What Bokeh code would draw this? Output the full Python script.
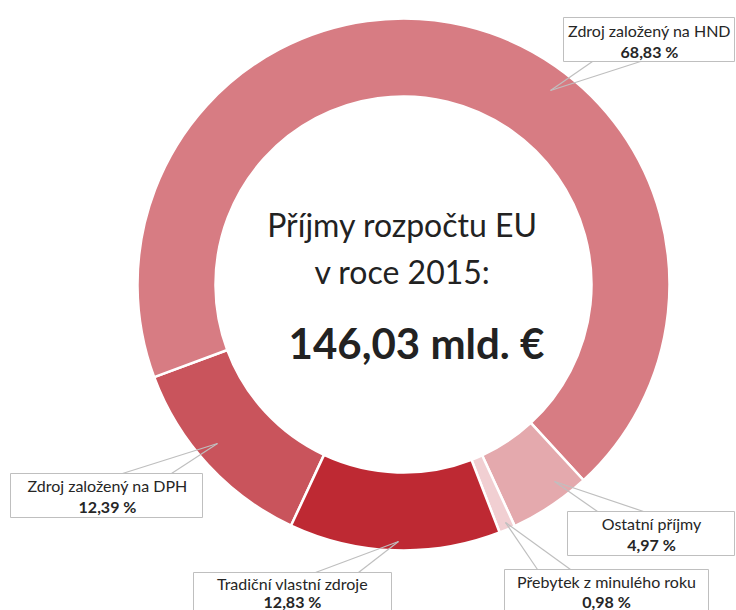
import numpy as np
from bokeh.plotting import figure
from bokeh.models import Range1d, ColumnDataSource
from bokeh.embed import file_html
from bokeh.resources import INLINE
from bokeh.core.properties import value

# ---- data ----
categories = ["Zdroj založený na DPH", "Zdroj založený na HND", "Ostatní příjmy",
              "Přebytek z minulého roku", "Tradiční vlastní zdroje"]
shares = [12.39, 68.83, 4.97, 0.98, 12.83]
share_labels = ["12,39 %", "68,83 %", "4,97 %", "0,98 %", "12,83 %"]
colors = ["#C9545C", "#D77C83", "#E4A9AD", "#F1CFD2", "#BE2933"]
title_lines = ["Příjmy rozpočtu EU", "v roce 2015:"]
total_label = "146,03 mld. €"

# ---- layout (page pixels; figure starts at page origin) ----
W, H = 736, 610
CX, CY = 403, 284
R_OUT, R_IN = 266, 188
START_DEG = 245.0  # start of first slice (DPH), going clockwise

def Y(y):
    return -y

p = figure(width=W, height=H, output_backend="svg", toolbar_location=None,
           x_range=Range1d(0, W), y_range=Range1d(-H, 0),
           x_axis_type=None, y_axis_type=None, title=None,
           min_border=0, min_border_left=0, min_border_right=0,
           min_border_top=0, min_border_bottom=0)
p.grid.visible = False
p.outline_line_color = None
p.background_fill_color = "white"
p.border_fill_color = "white"

vals = np.array(shares, dtype=float)
frac = vals / vals.sum()
cum = np.concatenate([[0], np.cumsum(frac)])
start0 = np.deg2rad(START_DEG)
starts = start0 - cum[:-1] * 2 * np.pi
ends = start0 - cum[1:] * 2 * np.pi

src = ColumnDataSource(dict(x=[CX] * len(vals), y=[Y(CY)] * len(vals),
                            start=starts, end=ends, color=colors, cat=categories))
p.annular_wedge(x="x", y="y", inner_radius=R_IN, outer_radius=R_OUT,
                start_angle="start", end_angle="end", direction="clock",
                fill_color="color", line_color="white", line_width=2.5, source=src)

# ---- callout boxes ----
callouts = {
    "Zdroj založený na DPH": dict(box=(10, 202, 473, 517), tx=107, ty=(485, 506),
                                   tip=(217, 443), base=((122, 473), (171, 473))),
    "Zdroj založený na HND": dict(box=(563, 734, 17, 61), tx=649, ty=(30, 51),
                                   tip=(550, 90), base=((592, 61), (640, 61))),
    "Ostatní příjmy": dict(box=(567, 734, 511, 555), tx=651, ty=(523, 544),
                           tip=(554, 481), base=((597, 511), (643, 511))),
    "Přebytek z minulého roku": dict(box=(504, 708, 569, 630), tx=606, ty=(581, 601),
                                     tip=(505, 522), base=((537, 569), (570, 569))),
    "Tradiční vlastní zdroje": dict(box=(193, 391, 572, 630), tx=292, ty=(583, 601),
                                    tip=(398, 541), base=((315, 572), (358, 572))),
}

GRAY = "#BFBFBF"
FONT = value("Lato")
for cat, lab in zip(categories, share_labels):
    c = callouts[cat]
    l, r, t, b = c["box"]
    p.quad(left=l, right=r, top=Y(t), bottom=Y(b), fill_color="white",
           line_color=GRAY, line_width=1)
    (bx0, by0), (bx1, by1) = c["base"]
    tx_, ty_ = c["tip"]
    p.segment(x0=[bx0, bx1], y0=[Y(by0), Y(by1)], x1=[tx_, tx_], y1=[Y(ty_), Y(ty_)],
              line_color=GRAY, line_width=1.2)
    p.text(x=[c["tx"]], y=[Y(c["ty"][0])], text=[cat], text_align="center",
           text_baseline="middle", text_font=FONT, text_font_size="16px",
           text_color="#262626")
    p.text(x=[c["tx"]], y=[Y(c["ty"][1])], text=[lab], text_align="center",
           text_baseline="middle", text_font=FONT, text_font_size="16px",
           text_font_style="bold", text_color="#262626")

# ---- center text ----
p.text(x=[402, 402], y=[Y(224), Y(271)], text=title_lines, text_align="center",
       text_baseline="middle", text_font=FONT, text_font_size="32px",
       text_color="#222222")
p.text(x=[416], y=[Y(342)], text=[total_label], text_align="center",
       text_baseline="middle", text_font=FONT, text_font_size="42px",
       text_font_style="bold", text_color="#222222")

open("out.html", "w").write(file_html(p, INLINE))
